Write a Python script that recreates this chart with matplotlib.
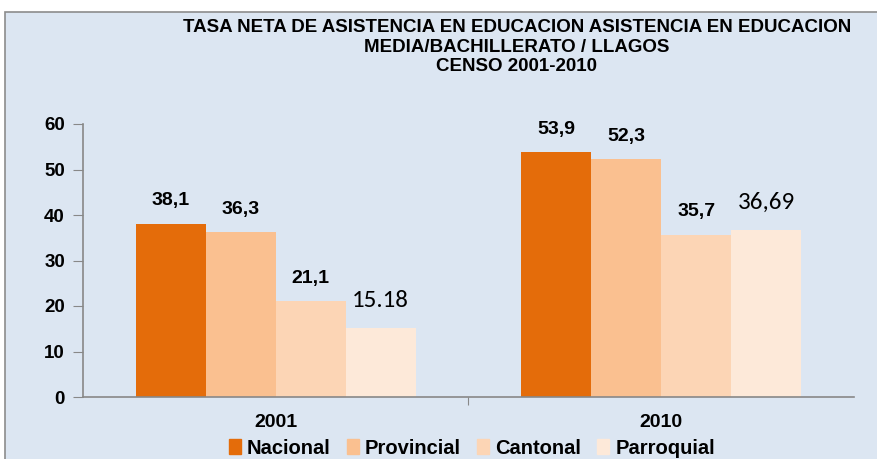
import matplotlib.pyplot as plt
import numpy as np
from matplotlib.patches import Rectangle

years = ['2001', '2010']
series = ['Nacional', 'Provincial', 'Cantonal', 'Parroquial']
values = {
    'Nacional': [38.1, 53.9],
    'Provincial': [36.3, 52.3],
    'Cantonal': [21.1, 35.7],
    'Parroquial': [15.18, 36.69],
}
value_labels = {
    'Nacional': ['38,1', '53,9'],
    'Provincial': ['36,3', '52,3'],
    'Cantonal': ['21,1', '35,7'],
    'Parroquial': ['15.18', '36,69'],
}
colors = ['#E46C0A', '#FAC090', '#FCD5B5', '#FDE9D9']

plt.rcParams['font.family'] = ['Liberation Sans', 'DejaVu Sans']

W, H = 878, 459
fig = plt.figure(figsize=(W / 100, H / 100), dpi=100)
fig.patch.set_facecolor('white')
bg = Rectangle((5 / W, -0.1), 1.2, (H - 12) / H + 0.1,
               transform=fig.transFigure, facecolor='#DCE6F2',
               edgecolor='#8C8C8C', linewidth=1.2, zorder=-10)
fig.add_artist(bg)

ax = fig.add_axes([83 / W, (H - 397) / H, (854 - 83) / W, (397 - 124) / H])
ax.set_facecolor('none')
ax.set_zorder(5)

bar_w = 70 / 385.5
x = np.arange(len(years))
for i, s in enumerate(series):
    pos = x + (i - 1.5) * bar_w
    ax.bar(pos, values[s], width=bar_w, color=colors[i], zorder=2)
    for p, v, lab in zip(pos, values[s], value_labels[s]):
        if s == 'Parroquial':
            # last series labels are in a different (non-bold) font
            ax.text(p, v + 6.0, lab, ha='center', va='center', fontsize=18,
                    family=['Carlito', 'Open Sans', 'DejaVu Sans'])
        else:
            ax.text(p, v + 5.0, lab, ha='center', va='center', fontsize=14,
                    fontweight='bold')

ax.set_xlim(-0.5, 1.5)
ax.set_ylim(0, 60)
ax.set_yticks(range(0, 61, 10))
ax.set_yticklabels([str(t) for t in range(0, 61, 10)], fontsize=13.5, fontweight='bold')
ax.set_xticks([0.5])
ax.set_xticklabels([''])
ax.tick_params(axis='x', length=6, color='#888888')
ax.tick_params(axis='y', length=7, color='#888888', pad=6)
for k, yr in enumerate(years):
    ax.text(k, -5.6, yr, ha='center', va='center', fontsize=14, fontweight='bold')
for side in ['top', 'right']:
    ax.spines[side].set_visible(False)
for side in ['left', 'bottom']:
    ax.spines[side].set_color('#888888')
    ax.spines[side].set_linewidth(1.2)

fig.text(517 / W, 1 - 47 / H,
         'TASA NETA DE ASISTENCIA EN EDUCACION ASISTENCIA EN EDUCACION\n'
         'MEDIA/BACHILLERATO / LLAGOS\nCENSO 2001-2010',
         ha='center', va='center', fontsize=13.5, fontweight='bold',
         linespacing=1.2)

handles = [Rectangle((0, 0), 1, 1, color=c) for c in colors]
fig.legend(handles, series, loc='center', bbox_to_anchor=(472 / W, 1 - 448 / H),
           ncol=4, frameon=False, prop={'weight': 'bold', 'size': 14.5},
           handlelength=0.6, handleheight=0.8, handletextpad=0.3, columnspacing=0.8)

fig.savefig('out.png', dpi=100)
